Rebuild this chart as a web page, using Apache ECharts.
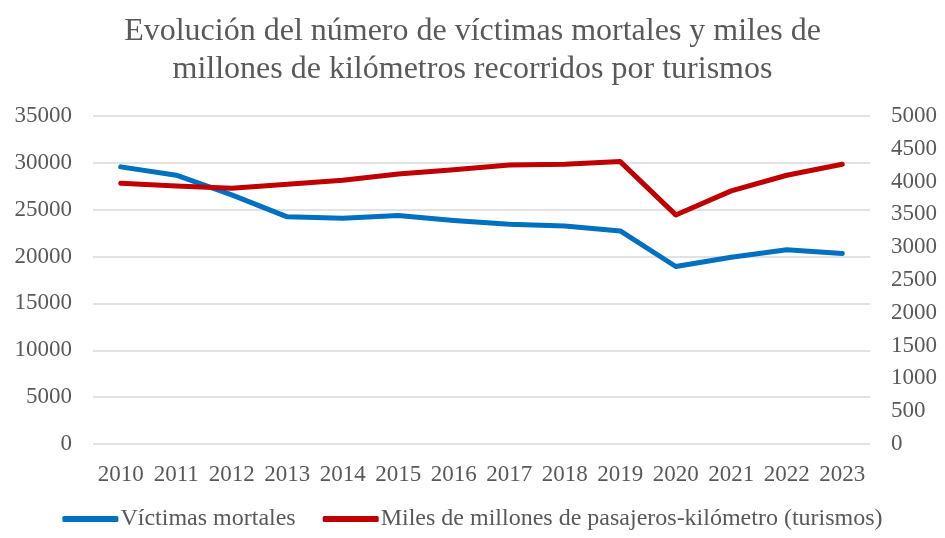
<!DOCTYPE html>
<html>
<head>
<meta charset="utf-8">
<script src="https://cdn.jsdelivr.net/npm/echarts@6/dist/echarts.min.js"></script>
<style>
  html, body { margin: 0; padding: 0; background: #fff; }
  #chart { width: 945px; height: 538px; }
</style>
</head>
<body>
<div id="chart"></div>
<script>
// datos
var years = ['2010', '2011', '2012', '2013', '2014', '2015', '2016', '2017', '2018', '2019', '2020', '2021', '2022', '2023'];
var victimas = [29570, 28680, 26580, 24240, 24100, 24380, 23850, 23450, 23270, 22740, 18940, 19930, 20720, 20330];
var pasajerosKm = [3975, 3934, 3900, 3960, 4020, 4117, 4180, 4254, 4264, 4305, 3492, 3858, 4097, 4264];

var fontFam = '"Liberation Serif", "Times New Roman", serif';
var grey = '#595959';

var myChart = echarts.init(document.getElementById('chart'));

// etiquetas sin separador de miles
function plain(v) { return String(v); }

var option = {
    backgroundColor: '#fff',
    title: {
        text: 'Evolución del número de víctimas mortales y miles de\nmillones de kilómetros recorridos por turismos',
        left: 'center',
        top: 8,
        textStyle: {
            fontFamily: fontFam,
            fontSize: 32,
            fontWeight: 'normal',
            color: grey,
            lineHeight: 38
        }
    },
    legend: {
        bottom: 2,
        left: 'center',
        itemWidth: 56,
        itemHeight: 6,
        itemGap: 27,
        icon: 'roundRect',
        textStyle: {
            fontFamily: fontFam,
            fontSize: 24,
            color: grey,
            padding: [0, 0, 0, -3]
        },
        data: ['Víctimas mortales', 'Miles de millones de pasajeros-kilómetro (turismos)']
    },
    grid: {
        left: 93,
        right: 75,
        top: 116,
        bottom: 94
    },
    xAxis: {
        type: 'category',
        data: years,
        boundaryGap: true,
        axisLine: { show: false },
        axisTick: { show: false },
        axisLabel: {
            fontFamily: fontFam,
            fontSize: 23,
            color: grey,
            margin: 19,
            interval: 0
        }
    },
    yAxis: [{
        type: 'value',
        min: 0,
        max: 35000,
        interval: 5000,
        axisLine: { show: false },
        axisTick: { show: false },
        splitLine: { lineStyle: { color: '#d9d9d9', width: 1.5 } },
        axisLabel: {
            fontFamily: fontFam,
            fontSize: 23,
            color: grey,
            margin: 21,
            formatter: plain
        }
    }, {
        type: 'value',
        min: 0,
        max: 5000,
        interval: 500,
        axisLine: { show: false },
        axisTick: { show: false },
        splitLine: { show: false },
        axisLabel: {
            fontFamily: fontFam,
            fontSize: 23,
            color: grey,
            margin: 21,
            formatter: plain
        }
    }],
    series: [{
        name: 'Víctimas mortales',
        type: 'line',
        yAxisIndex: 0,
        data: victimas,
        symbol: 'none',
        color: '#0070c0',
        lineStyle: { width: 5, cap: 'round', join: 'round' }
    }, {
        name: 'Miles de millones de pasajeros-kilómetro (turismos)',
        type: 'line',
        yAxisIndex: 1,
        data: pasajerosKm,
        symbol: 'none',
        color: '#c00000',
        lineStyle: { width: 5, cap: 'round', join: 'round' }
    }]
};

myChart.setOption(option);
</script>
</body>
</html>
